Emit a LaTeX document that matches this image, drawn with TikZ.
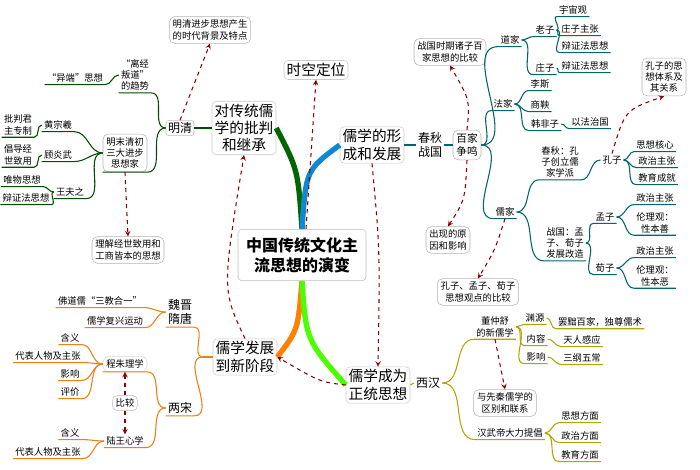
\documentclass[tikz,border=0pt]{standalone}
\usepackage{fontspec}
\setmainfont{Noto Sans CJK SC}
\usetikzlibrary{calc}

\newcommand\branchR[3]{\draw[#1] (#2.east) to[out=0,in=180] (#3.south west) -- (#3.south east);}
\newcommand\branchL[3]{\draw[#1] (#2.west) to[out=180,in=0] (#3.south east) -- (#3.south west);}

\begin{document}
\begin{tikzpicture} [x=0.75pt,y=-0.75pt,>=stealth,
  bx/.style={draw=gray!60,rounded corners=4pt,fill=white,align=center,
    font=\fontsize{7}{8.5}\selectfont,inner sep=2.5pt},
  big/.style={draw=gray!40,rounded corners=3pt,fill=white,align=center,
    font=\fontsize{11}{13}\selectfont,inner sep=2pt},
  lf/.style={align=center,font=\fontsize{7}{8.5}\selectfont,inner sep=1.5pt},
  mid/.style={align=center,font=\fontsize{9}{11}\selectfont,inner sep=1.5pt},
  lnk/.style={dashed,thick,red!55!black,->},
  gr/.style={thick,green!30!black},
  tl/.style={thick,teal!80!black},
  br/.style={thick,orange!70!brown},
  ol/.style={thick,olive!70!yellow}]
\useasboundingbox (0,0) rectangle (700,470);

% centre and main branches
\node [big,font=\bfseries\fontsize{12}{15}\selectfont,draw=gray!50,inner sep=6pt] (centre) at (302,255) {中国传统文化主\\流思想的演变};
\node [big] (critique) at (244,128) {对传统儒\\学的批判\\和继承};
\node [big] (spacetime) at (316,70) {时空定位};
\node [big] (forming) at (372,145) {儒学的形\\成和发展};
\node [big] (newstage) at (245,357) {儒学发展\\到新阶段};
\node [big] (orthodox) at (378,385) {儒学成为\\正统思想};

\draw [line width=4pt,green!40!black] (centre.north) .. controls (298,170) .. (critique.east);
\draw [line width=4pt,cyan!70!blue] (centre.north) .. controls (306,170) .. (forming.west);
\draw [line width=4pt,orange] (centre.south) .. controls (298,330) .. (newstage.east);
\draw [line width=4pt,green!60!lime] (centre.south) .. controls (306,340) .. (orthodox.west);

\draw [lnk] (centre.north) ++(4,0) -- (spacetime.south);
\draw [lnk] (newstage.north) .. controls (222,290) .. (critique.south);
\draw [lnk] (orthodox.west) .. controls (320,382) .. (newstage.east);
\draw [lnk] (forming.south) .. controls (380,250) .. (orthodox.north);

% Ming and Qing
\node [mid,draw=gray!50,rounded corners=2pt] (mingqing) at (180,128) {明清};
\node [bx] (background) at (210,30) {明清进步思想产生\\的时代背景及特点};
\node [bx] (thinkers) at (125,153) {明末清初\\三大进步\\思想家};
\node [bx] (jingshi) at (128,250) {理解经世致用和\\工商皆本的思想};
\node [lf] (heresy) at (135,75) {“离经\\叛道”\\的趋势};
\node [lf] (yiduan) at (75,78) {“异端”思想};
\node [lf] (huang) at (58,125) {黄宗羲};
\node [lf] (gu) at (58,155) {顾炎武};
\node [lf] (wang) at (70,192) {王夫之};
\node [lf] (despot) at (18,125) {批判君\\主专制};
\node [lf] (shiyong) at (18,155) {倡导经\\世致用};
\node [lf] (weiwu) at (22,180) {唯物思想};
\node [lf] (bianzheng) at (26,198) {辩证法思想};
\draw [gr] (critique.west) -- (mingqing.east);
\branchL{gr}{mingqing}{heresy}
\branchL{gr}{mingqing}{thinkers}
\branchL{gr}{heresy}{yiduan}
\branchL{gr}{thinkers}{huang}
\branchL{gr}{thinkers}{gu}
\branchL{gr}{thinkers}{wang}
\branchL{gr}{huang}{despot}
\branchL{gr}{gu}{shiyong}
\branchL{gr}{wang}{weiwu}
\branchL{gr}{wang}{bianzheng}
\draw [lnk] (mingqing.north) -- (background.south);
\draw [lnk] (thinkers.south) -- (jingshi.north);

% Spring and Autumn, Warring States
\node [mid] (chunqiu) at (430,145) {春秋\\战国};
\node [bx,font=\fontsize{8}{10}\selectfont] (baijia) at (467,145) {百家\\争鸣};
\node [bx] (compare) at (450,52) {战国时期诸子百\\家思想的比较};
\node [bx] (cause) at (448,240) {出现的原\\因和影响};
\node [lf] (daojia) at (510,40) {道家};
\node [lf] (fajia) at (503,104) {法家};
\node [lf] (rujia) at (505,212) {儒家};
\node [lf] (laozi) at (545,30) {老子};
\node [lf] (zhuangzi) at (545,68) {庄子};
\node [lf] (yuzhou) at (573,10) {宇宙观};
\node [lf] (zhuangzhang) at (580,29) {庄子主张};
\node [lf] (bian1) at (585,46) {辩证法思想};
\node [lf] (bian2) at (585,66) {辩证法思想};
\node [lf] (lisi) at (540,84) {李斯};
\node [lf] (shangyang) at (540,105) {商鞅};
\node [lf] (hanfei) at (545,124) {韩非子};
\node [lf] (fazhi) at (590,122) {以法治国};
\node [lf] (chunkong) at (560,162) {春秋：孔\\子创立儒\\家学派};
\node [lf] (zhanmeng) at (565,243) {战国：孟\\子、荀子\\发展改造};
\node [lf] (kongzi) at (612,160) {孔子};
\node [bx] (kongsys) at (664,77) {孔子的思\\想体系及\\其关系};
\node [lf] (hexin) at (655,145) {思想核心};
\node [lf] (kzheng) at (657,161) {政治主张};
\node [lf] (jiaoyu) at (657,178) {教育成就};
\node [lf] (mengzi) at (605,217) {孟子};
\node [lf] (mzheng) at (655,198) {政治主张};
\node [lf] (shan) at (655,223) {伦理观：\\性本善};
\node [lf] (xunzi) at (605,268) {荀子};
\node [lf] (xzheng) at (655,251) {政治主张};
\node [lf] (e) at (655,276) {伦理观：\\性本恶};
\node [bx] (threecmp) at (478,292) {孔子、孟子、荀子\\思想观点的比较};
\draw [tl] (forming.east) -- (chunqiu.west);
\draw [tl] (chunqiu.east) -- (baijia.west);
\foreach \s in {daojia,fajia,rujia} {\branchR{tl}{baijia}{\s}}
\foreach \s in {laozi,zhuangzi} {\branchR{tl}{daojia}{\s}}
\foreach \s in {yuzhou,zhuangzhang,bian1} {\branchR{tl}{laozi}{\s}}
\branchR{tl}{zhuangzi}{bian2}
\foreach \s in {lisi,shangyang,hanfei} {\branchR{tl}{fajia}{\s}}
\branchR{tl}{hanfei}{fazhi}
\foreach \s in {chunkong,zhanmeng} {\branchR{tl}{rujia}{\s}}
\draw [tl] (chunkong.south east) to[out=0,in=180] (kongzi.west);
\foreach \s in {hexin,kzheng,jiaoyu} {\branchR{tl}{kongzi}{\s}}
\foreach \s in {mengzi,xunzi} {\branchR{tl}{zhanmeng}{\s}}
\foreach \s in {mzheng,shan} {\branchR{tl}{mengzi}{\s}}
\foreach \s in {xzheng,e} {\branchR{tl}{xunzi}{\s}}
\draw [lnk] (baijia.north) .. controls (470,100) .. (compare.south);
\draw [lnk] (baijia.south) .. controls (465,200) .. (cause.north);
\draw [lnk] (kongzi.north) .. controls (625,110) .. (kongsys.south);
\draw [lnk] (rujia.south) .. controls (495,250) .. (threecmp.north);

% Western Han
\node [mid] (xihan) at (428,383) {西汉};
\node [lf] (dong) at (495,327) {董仲舒\\的新儒学};
\node [lf] (yuan) at (535,318) {渊源};
\node [lf] (nei) at (536,339) {内容};
\node [lf] (ying) at (536,357) {影响};
\node [lf] (bachu) at (600,322) {罢黜百家，独尊儒术};
\node [lf] (tianren) at (582,340) {天人感应};
\node [lf] (sangang) at (582,358) {三纲五常};
\node [bx] (xianqin) at (505,403) {与先秦儒学的\\区别和联系};
\node [lf] (wudi) at (510,433) {汉武帝大力提倡};
\node [lf] (sixiang) at (580,416) {思想方面};
\node [lf] (zhengzhi) at (580,436) {政治方面};
\node [lf] (jiaoyu2) at (580,455) {教育方面};
\draw [ol] (orthodox.east) -- (xihan.west);
\foreach \s in {dong,wudi} {\branchR{ol}{xihan}{\s}}
\foreach \s in {yuan,nei,ying} {\branchR{ol}{dong}{\s}}
\branchR{ol}{yuan}{bachu}
\branchR{ol}{nei}{tianren}
\branchR{ol}{ying}{sangang}
\foreach \s in {sixiang,zhengzhi,jiaoyu2} {\branchR{ol}{wudi}{\s}}
\draw [lnk] (dong.south) -- (xianqin.north);

% Wei, Jin, Sui, Tang and the two Songs
\node [mid] (suitang) at (180,312) {魏晋\\隋唐};
\node [lf] (sanjiao) at (100,301) {佛道儒“三教合一”};
\node [lf] (fuxing) at (115,321) {儒学复兴运动};
\node [mid] (liangsong) at (180,408) {两宋};
\node [bx,draw=gray!30] (chengzhu) at (125,364) {程朱理学};
\node [bx,draw=gray!50] (bijiao) at (125,403) {比较};
\node [lf] (luwang) at (125,441) {陆王心学};
\node [lf] (hanyi1) at (70,338) {含义};
\node [lf] (daibiao1) at (48,356) {代表人物及主张};
\node [lf] (yingxiang) at (70,374) {影响};
\node [lf] (pingjia) at (70,392) {评价};
\node [lf] (hanyi2) at (70,433) {含义};
\node [lf] (daibiao2) at (48,452) {代表人物及主张};
\draw [br] (newstage.west) -- ++(-10,0) coordinate (fork);
\draw [br] (fork) to[out=180,in=0] (suitang.south east) -- (suitang.south west);
\draw [br] (fork) to[out=180,in=0] (liangsong.south east) -- (liangsong.south west);
\foreach \s in {sanjiao,fuxing} {\branchL{br}{suitang}{\s}}
\foreach \s in {chengzhu,luwang} {\branchL{br}{liangsong}{\s}}
\foreach \s in {hanyi1,daibiao1,yingxiang,pingjia} {\branchL{br}{chengzhu}{\s}}
\foreach \s in {hanyi2,daibiao2} {\branchL{br}{luwang}{\s}}
\draw [lnk] (bijiao.north) -- (chengzhu.south);
\draw [lnk] (bijiao.south) -- (luwang.north);

\end{tikzpicture}
\end{document}
